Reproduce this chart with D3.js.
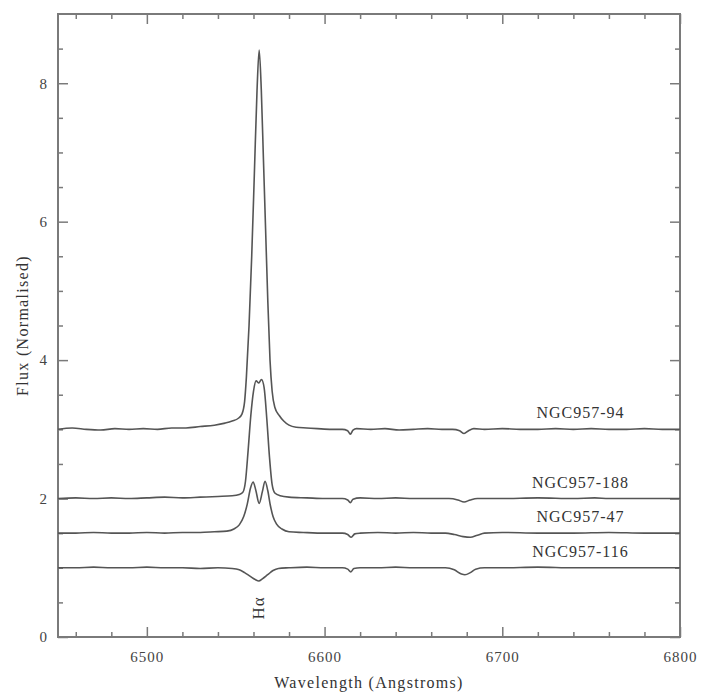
<!DOCTYPE html>
<html>
<head>
<meta charset="utf-8">
<script src="https://cdn.jsdelivr.net/npm/d3@7"></script>
<style>
  body { margin: 0; background: #fff; }
  text { font-family: 'Liberation Serif', 'Times New Roman', serif; fill: #333; }
</style>
</head>
<body>
<script>
// spectra: [wavelength, normalised flux]
var spec94 = [[6450,3.00],[6458,3.02],[6466,3.00],[6474,2.99],[6482,3.01],[6490,3.00],[6498,3.01],[6506,3.00],[6514,3.02],[6522,3.02],[6530,3.04],[6538,3.06],[6544,3.09],[6548,3.12],[6551.5,3.16],[6553.5,3.22],[6555,3.4],[6556,3.75],[6557.5,4.5],[6559,5.5],[6560.5,6.7],[6562,7.9],[6563.2,8.48],[6564.4,7.9],[6565.6,6.9],[6566.8,5.9],[6568,4.9],[6569.3,4.0],[6570.5,3.55],[6572,3.32],[6574.5,3.2],[6577,3.12],[6580,3.06],[6584,3.03],[6590,3.02],[6596,3.01],[6604,3.00],[6610,3.00],[6613,2.98],[6614.5,2.93],[6616,2.99],[6618,3.01],[6626,3.00],[6634,3.01],[6642,2.99],[6650,3.00],[6658,3.01],[6666,3.00],[6672,3.00],[6676,2.98],[6678.5,2.94],[6681,2.98],[6684,3.01],[6690,3.00],[6700,3.01],[6710,3.00],[6720,3.00],[6730,3.01],[6740,3.00],[6750,3.01],[6760,3.00],[6770,3.00],[6780,3.01],[6790,3.00],[6800,3.00]];

var spec188 = [[6450,2.00],[6460,2.01],[6470,2.00],[6480,2.01],[6490,2.00],[6500,2.01],[6510,2.02],[6520,2.01],[6530,2.02],[6540,2.03],[6548,2.04],[6552,2.06],[6554,2.09],[6555.5,2.25],[6557,2.7],[6558.5,3.2],[6560,3.55],[6561.5,3.70],[6563,3.67],[6564.5,3.72],[6566,3.6],[6567.5,3.15],[6569,2.6],[6570.5,2.2],[6572,2.08],[6575,2.04],[6580,2.02],[6590,2.01],[6600,2.00],[6610,2.00],[6613,1.98],[6614.5,1.94],[6616,1.99],[6620,2.01],[6630,2.00],[6640,2.01],[6650,2.00],[6660,2.00],[6670,2.00],[6675,1.98],[6678.5,1.95],[6682,1.98],[6686,2.00],[6700,2.00],[6720,2.01],[6740,2.00],[6752,2.01],[6760,2.00],[6780,2.00],[6800,2.00]];

var spec47 = [[6450,1.50],[6460,1.50],[6470,1.51],[6480,1.50],[6490,1.50],[6500,1.51],[6510,1.50],[6520,1.51],[6530,1.51],[6538,1.52],[6545,1.53],[6549,1.56],[6552,1.62],[6554.5,1.74],[6556.5,1.92],[6558.3,2.15],[6559.8,2.24],[6561.3,2.12],[6563.2,1.93],[6565,2.1],[6566.5,2.25],[6568,2.12],[6569.5,1.9],[6571,1.74],[6573,1.63],[6576,1.56],[6580,1.52],[6588,1.51],[6600,1.50],[6610,1.50],[6613,1.48],[6615,1.44],[6617,1.49],[6620,1.50],[6630,1.51],[6640,1.50],[6650,1.51],[6660,1.50],[6668,1.50],[6673,1.48],[6678,1.45],[6682,1.44],[6686,1.47],[6690,1.50],[6700,1.51],[6720,1.50],[6740,1.50],[6760,1.51],[6780,1.50],[6800,1.50]];

var spec116 = [[6450,1.00],[6460,1.00],[6470,1.01],[6480,1.00],[6490,1.00],[6500,1.01],[6510,1.00],[6520,1.00],[6530,0.99],[6540,1.00],[6548,0.99],[6552,0.97],[6555,0.93],[6558,0.88],[6561,0.83],[6563,0.81],[6565,0.84],[6568,0.90],[6571,0.96],[6574,0.99],[6580,1.00],[6590,1.01],[6600,1.00],[6610,1.00],[6613,0.98],[6614.8,0.94],[6616.5,0.99],[6620,1.00],[6630,1.00],[6640,1.01],[6650,1.00],[6660,1.00],[6668,1.00],[6673,0.97],[6677,0.91],[6679,0.90],[6682,0.93],[6685,0.98],[6690,1.00],[6700,1.00],[6720,1.01],[6740,1.00],[6760,1.00],[6780,1.00],[6800,1.00]];

var seriesNames = ['NGC957-94', 'NGC957-188', 'NGC957-47', 'NGC957-116'];
var seriesLevels = [3, 2, 1.5, 1];
var seriesData = [spec94, spec188, spec47, spec116];

var xMajorTicks = [6500, 6600, 6700, 6800];
var yMajorTicks = [0, 2, 4, 6, 8];
var lineLabel = 'Hα';
var lineWavelength = 6563;

var svgWidth = 709;
var svgHeight = 692;
var margin = {left: 58, right: 29, top: 14, bottom: 55};

var svg = d3.select('body')
    .append('svg')
    .attr('width', svgWidth)
    .attr('height', svgHeight);

var x = d3.scaleLinear()
    .domain([6450, 6800])
    .range([margin.left, svgWidth - margin.right]);

var y = d3.scaleLinear()
    .domain([0, 9])
    .range([svgHeight - margin.bottom, margin.top]);

var xMinor = d3.range(6460, 6800, 20).filter(function (d) { return d % 100 !== 0; });
var yMinor = d3.range(0.5, 9, 0.5).filter(function (d) { return d % 2 !== 0; });

var axisColor = '#7a7a7a';

function styleAxis(g) {
    g.select('.domain').remove();
    g.selectAll('line').attr('stroke', axisColor).attr('stroke-width', 1.5);
    g.selectAll('text')
        .attr('font-size', 15)
        .style('fill', '#444');
}

// bottom
svg.append('g')
    .attr('transform', 'translate(0,' + y(0) + ')')
    .call(d3.axisBottom(x).tickValues(xMajorTicks).tickSize(-10).tickPadding(14).tickFormat(d3.format('d')))
    .call(styleAxis)
    .selectAll('text').attr('letter-spacing', 1);
svg.append('g')
    .attr('transform', 'translate(0,' + y(0) + ')')
    .call(d3.axisBottom(x).tickValues(xMinor).tickSize(-5).tickFormat(''))
    .call(styleAxis);

// top
svg.append('g')
    .attr('transform', 'translate(0,' + y(9) + ')')
    .call(d3.axisTop(x).tickValues(xMajorTicks).tickSize(-10).tickFormat(''))
    .call(styleAxis);
svg.append('g')
    .attr('transform', 'translate(0,' + y(9) + ')')
    .call(d3.axisTop(x).tickValues(xMinor).tickSize(-5).tickFormat(''))
    .call(styleAxis);

// left
svg.append('g')
    .attr('transform', 'translate(' + x(6450) + ',0)')
    .call(d3.axisLeft(y).tickValues(yMajorTicks).tickSize(-10).tickPadding(11).tickFormat(d3.format('d')))
    .call(styleAxis);
svg.append('g')
    .attr('transform', 'translate(' + x(6450) + ',0)')
    .call(d3.axisLeft(y).tickValues(yMinor).tickSize(-5).tickFormat(''))
    .call(styleAxis);

// right
svg.append('g')
    .attr('transform', 'translate(' + x(6800) + ',0)')
    .call(d3.axisRight(y).tickValues(yMajorTicks).tickSize(-10).tickFormat(''))
    .call(styleAxis);
svg.append('g')
    .attr('transform', 'translate(' + x(6800) + ',0)')
    .call(d3.axisRight(y).tickValues(yMinor).tickSize(-5).tickFormat(''))
    .call(styleAxis);

// frame
svg.append('rect')
    .attr('x', x(6450))
    .attr('y', y(9))
    .attr('width', x(6800) - x(6450))
    .attr('height', y(0) - y(9))
    .attr('fill', 'none')
    .attr('stroke', axisColor)
    .attr('stroke-width', 2);

var line = d3.line()
    .x(function (d) { return x(d[0]); })
    .y(function (d) { return y(d[1]); })
    .curve(d3.curveMonotoneX);

svg.append('g')
    .selectAll('path')
    .data(seriesData)
    .enter()
    .append('path')
    .attr('d', line)
    .attr('fill', 'none')
    .attr('stroke', '#555')
    .attr('stroke-width', 1.6)
    .attr('stroke-linejoin', 'round');

// spectrum labels
svg.append('g')
    .selectAll('text')
    .data(seriesNames)
    .enter()
    .append('text')
    .attr('x', x(6744))
    .attr('y', function (d, i) { return y(seriesLevels[i]) - 11; })
    .attr('text-anchor', 'middle')
    .attr('font-size', 16)
    .attr('letter-spacing', 1)
    .text(function (d) { return d; });

// H-alpha marker
svg.append('text')
    .attr('transform', 'translate(' + (x(lineWavelength) + 5) + ',608) rotate(-90)')
    .attr('text-anchor', 'middle')
    .attr('font-size', 17)
    .attr('letter-spacing', 1)
    .text(lineLabel);

// axis titles
svg.append('text')
    .attr('x', (x(6450) + x(6800)) / 2)
    .attr('y', 688)
    .attr('text-anchor', 'middle')
    .attr('font-size', 16)
    .attr('letter-spacing', 1.3)
    .text('Wavelength (Angstroms)');

svg.append('text')
    .attr('transform', 'translate(28,' + (y(0) + y(9)) / 2 + ') rotate(-90)')
    .attr('text-anchor', 'middle')
    .attr('font-size', 16)
    .attr('letter-spacing', 1.3)
    .text('Flux (Normalised)');
</script>
</body>
</html>
